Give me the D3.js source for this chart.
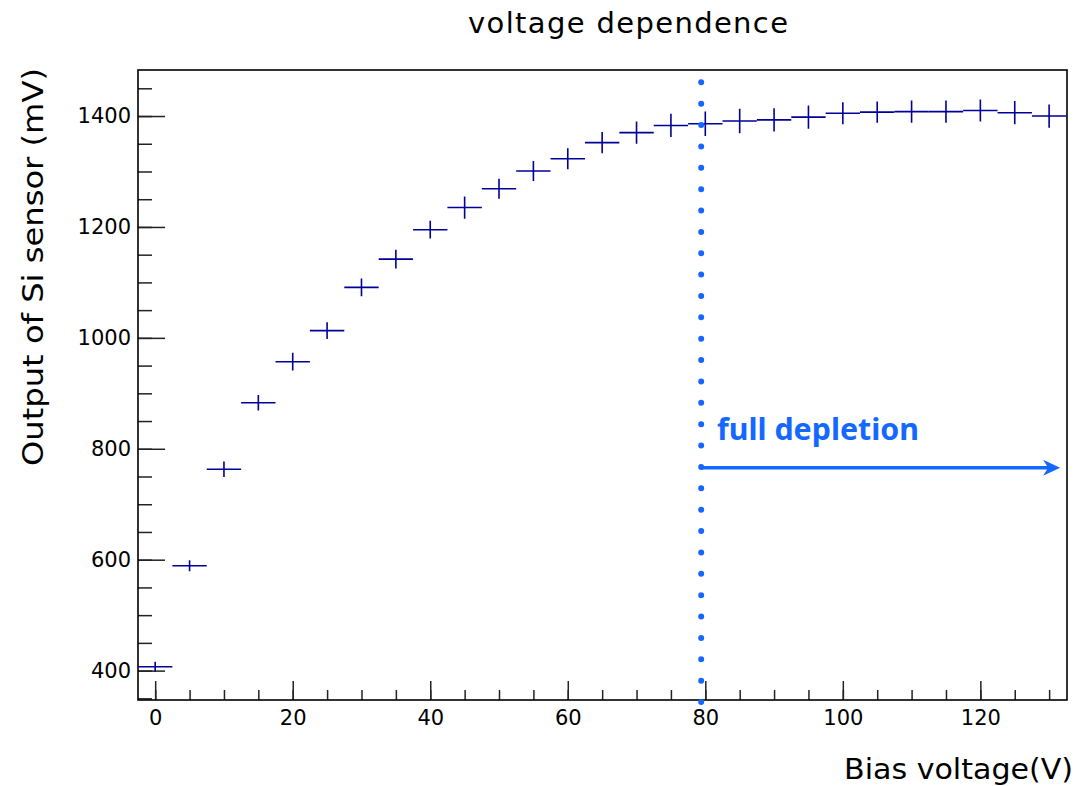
<!DOCTYPE html>
<html>
<head>
<meta charset="utf-8">
<script src="https://cdn.jsdelivr.net/npm/d3@7"></script>
<style>
  html, body { margin: 0; padding: 0; background: #fff; }
  svg { display: block; font-family: "DejaVu Sans", "Liberation Sans", sans-serif; }
  .tick-label-text { font-size: 21px; fill: #000; font-family: "DejaVu Sans", sans-serif; }
  .axis .tick line { stroke: #222; stroke-width: 1.5; }
  .axis .domain { display: none; }
</style>
</head>
<body>
<div id="chart"></div>
<script>
// bias voltage (V) and measured sensor output (mV)
const biasVoltage = [0, 5, 10, 15, 20, 25, 30, 35, 40, 45, 50, 55, 60, 65,
  70, 75, 80, 85, 90, 95, 100, 105, 110, 115, 120, 125, 130];
const sensorOutput = [407, 589, 763, 883, 957, 1013, 1091, 1142, 1195, 1235,
  1269, 1301, 1323, 1352, 1370, 1383, 1386, 1391, 1393, 1398, 1405, 1407,
  1408, 1408, 1410, 1406, 1400];
const outputError = [9, 10, 14, 14, 16, 15, 16, 17, 16, 20, 18, 18, 19, 19,
  20, 21, 22, 22, 21, 21, 20, 19, 20, 20, 20, 21, 21];
const voltageHalfWidth = 2.5;

const xTickValues = [0, 20, 40, 60, 80, 100, 120];
const yTickValues = [400, 600, 800, 1000, 1200, 1400];

const xDomain = [-2.5, 132.6];
const yDomain = [347, 1483];

const depletionVoltage = 79.4;
const depletionLabel = "full depletion";
const arrowLevel = 766;
const arrowEnd = 131.6;

const width = 1081;
const height = 786;
const margin = { top: 70, right: 14, bottom: 86, left: 138 };
const blue = "#1468ff";
const markColor = "#000099";

const points = biasVoltage.map((v, i) => ({
  x: v,
  y: sensorOutput[i],
  err: outputError[i],
}));

const svg = d3.select("#chart")
  .append("svg")
  .attr("width", width)
  .attr("height", height);

const x = d3.scaleLinear()
  .domain(xDomain)
  .range([margin.left, width - margin.right]);

const y = d3.scaleLinear()
  .domain(yDomain)
  .range([height - margin.bottom, margin.top]);

svg.append("clipPath")
  .attr("id", "plot-clip")
  .append("rect")
  .attr("x", margin.left)
  .attr("y", margin.top)
  .attr("width", width - margin.left - margin.right)
  .attr("height", height - margin.top - margin.bottom);

// minor ticks first, major ticks drawn on top
svg.append("g")
  .attr("class", "axis axis--y-minor")
  .attr("transform", `translate(${margin.left},0)`)
  .call(d3.axisLeft(y).tickValues(d3.range(350, 1500, 50)).tickSize(-14).tickFormat(""));

svg.append("g")
  .attr("class", "axis axis--y")
  .attr("transform", `translate(${margin.left},0)`)
  .call(d3.axisLeft(y).tickValues(yTickValues).tickSize(-27).tickPadding(7).tickFormat(d3.format("d")))
  .call((g) => g.selectAll(".tick text").attr("class", "tick-label-text"));

svg.append("g")
  .attr("class", "axis axis--x-minor")
  .attr("transform", `translate(0,${height - margin.bottom})`)
  .call(d3.axisBottom(x).tickValues(d3.range(0, 131, 5)).tickSize(-10).tickFormat(""));

svg.append("g")
  .attr("class", "axis axis--x")
  .attr("transform", `translate(0,${height - margin.bottom})`)
  .call(d3.axisBottom(x).tickValues(xTickValues).tickSize(-19).tickPadding(10).tickFormat(d3.format("d")))
  .call((g) => g.selectAll(".tick text").attr("class", "tick-label-text"));

// frame
svg.append("rect")
  .attr("x", margin.left)
  .attr("y", margin.top)
  .attr("width", width - margin.left - margin.right)
  .attr("height", height - margin.top - margin.bottom)
  .attr("fill", "none")
  .attr("stroke", "#000")
  .attr("stroke-width", 1.6);

// data crosses: x bin width and y error
svg.append("g")
  .attr("class", "points")
  .attr("clip-path", "url(#plot-clip)")
  .selectAll("path")
  .data(points)
  .join("path")
  .attr("d", (d) =>
    `M${x(d.x - voltageHalfWidth)},${y(d.y)}H${x(d.x + voltageHalfWidth)}` +
    `M${x(d.x)},${y(d.y + d.err)}V${y(d.y - d.err)}`)
  .attr("fill", "none")
  .attr("stroke", markColor)
  .attr("stroke-width", 1.6);

// dotted full depletion line
const dotTop = 82.3;
const dotBottom = 702;
const dotGap = (dotBottom - dotTop) / 29;
svg.append("line")
  .attr("x1", x(depletionVoltage))
  .attr("x2", x(depletionVoltage))
  .attr("y1", dotTop)
  .attr("y2", dotBottom + 0.1)
  .attr("stroke", blue)
  .attr("stroke-width", 6)
  .attr("stroke-linecap", "round")
  .attr("stroke-dasharray", `0 ${dotGap}`);

// arrow
const ax0 = x(depletionVoltage);
const ax1 = x(arrowEnd);
const ay = y(arrowLevel);
svg.append("line")
  .attr("x1", ax0)
  .attr("x2", ax1 - 8)
  .attr("y1", ay)
  .attr("y2", ay)
  .attr("stroke", blue)
  .attr("stroke-width", 3.5);
svg.append("path")
  .attr("d", `M${ax1},${ay}L${ax1 - 17},${ay - 8}L${ax1 - 12},${ay}L${ax1 - 17},${ay + 8}Z`)
  .attr("fill", blue);

svg.append("text")
  .attr("x", x(81.7))
  .attr("y", y(816))
  .attr("fill", blue)
  .attr("font-family", "'Noto Sans', sans-serif")
  .attr("font-size", 30)
  .attr("font-weight", "bold")
  .attr("textLength", 202)
  .attr("lengthAdjust", "spacingAndGlyphs")
  .text(depletionLabel);

// titles
svg.append("text")
  .attr("x", 628)
  .attr("y", 33)
  .attr("text-anchor", "middle")
  .attr("font-size", 29)
  .attr("textLength", 320)
  .attr("lengthAdjust", "spacing")
  .text("voltage dependence");

svg.append("text")
  .attr("x", 1073)
  .attr("y", 779)
  .attr("text-anchor", "end")
  .attr("font-size", 29)
  .attr("textLength", 229)
  .attr("lengthAdjust", "spacingAndGlyphs")
  .text("Bias voltage(V)");

svg.append("text")
  .attr("transform", "translate(43,267) rotate(-90)")
  .attr("text-anchor", "middle")
  .attr("font-size", 29)
  .attr("textLength", 398)
  .attr("lengthAdjust", "spacingAndGlyphs")
  .text("Output of Si sensor (mV)");
</script>
</body>
</html>
